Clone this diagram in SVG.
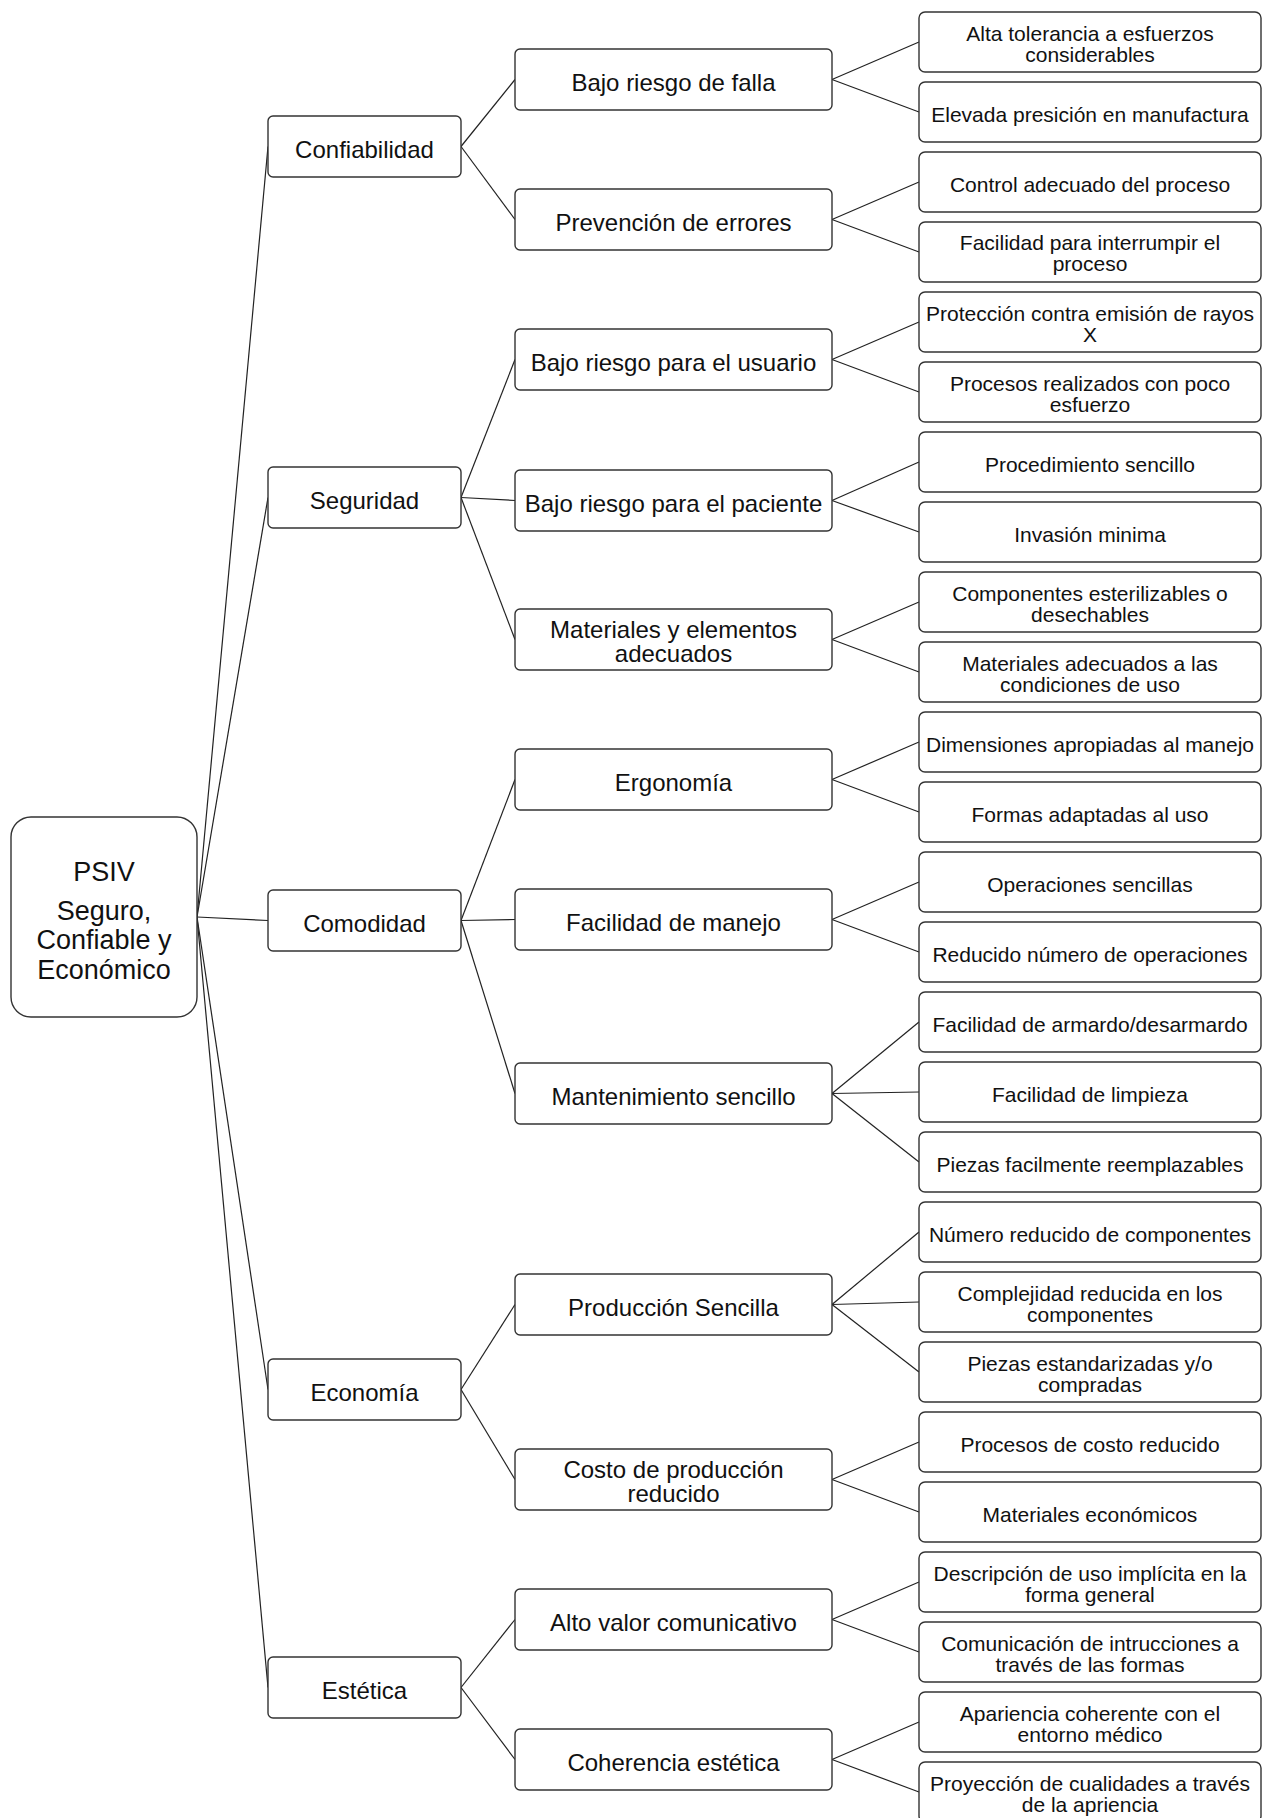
<svg xmlns="http://www.w3.org/2000/svg" width="1265" height="1818" viewBox="0 0 1265 1818">
<style>
rect{fill:#fff;stroke:#333;stroke-width:1.4}
text{font-family:"Liberation Sans",Arial,sans-serif;fill:#111;text-anchor:middle}
.r text{font-size:27px}
.l1 text,.l2 text{font-size:24px}
.l3 text{font-size:21px}
#connectors line{stroke:#222;stroke-width:1.2}
</style>
<rect x="0" y="0" width="1265" height="1818" style="fill:#fff;stroke:none"/>
<g id="connectors">
<line x1="197" y1="917" x2="268" y2="146.5"/>
<line x1="197" y1="917" x2="268" y2="497.5"/>
<line x1="197" y1="917" x2="268" y2="920.5"/>
<line x1="197" y1="917" x2="268" y2="1389.5"/>
<line x1="197" y1="917" x2="268" y2="1687.5"/>
<line x1="461" y1="146.5" x2="515" y2="79.5"/>
<line x1="461" y1="146.5" x2="515" y2="219.5"/>
<line x1="461" y1="497.5" x2="515" y2="359.5"/>
<line x1="461" y1="497.5" x2="515" y2="500.5"/>
<line x1="461" y1="497.5" x2="515" y2="639.5"/>
<line x1="461" y1="920.5" x2="515" y2="779.5"/>
<line x1="461" y1="920.5" x2="515" y2="919.5"/>
<line x1="461" y1="920.5" x2="515" y2="1093.5"/>
<line x1="461" y1="1389.5" x2="515" y2="1304.5"/>
<line x1="461" y1="1389.5" x2="515" y2="1479.5"/>
<line x1="461" y1="1687.5" x2="515" y2="1619.5"/>
<line x1="461" y1="1687.5" x2="515" y2="1759.5"/>
<line x1="832" y1="79.5" x2="919" y2="42"/>
<line x1="832" y1="79.5" x2="919" y2="112"/>
<line x1="832" y1="219.5" x2="919" y2="182"/>
<line x1="832" y1="219.5" x2="919" y2="252"/>
<line x1="832" y1="359.5" x2="919" y2="322"/>
<line x1="832" y1="359.5" x2="919" y2="392"/>
<line x1="832" y1="500.5" x2="919" y2="462"/>
<line x1="832" y1="500.5" x2="919" y2="532"/>
<line x1="832" y1="639.5" x2="919" y2="602"/>
<line x1="832" y1="639.5" x2="919" y2="672"/>
<line x1="832" y1="779.5" x2="919" y2="742"/>
<line x1="832" y1="779.5" x2="919" y2="812"/>
<line x1="832" y1="919.5" x2="919" y2="882"/>
<line x1="832" y1="919.5" x2="919" y2="952"/>
<line x1="832" y1="1093.5" x2="919" y2="1022"/>
<line x1="832" y1="1093.5" x2="919" y2="1092"/>
<line x1="832" y1="1093.5" x2="919" y2="1162"/>
<line x1="832" y1="1304.5" x2="919" y2="1232"/>
<line x1="832" y1="1304.5" x2="919" y2="1302"/>
<line x1="832" y1="1304.5" x2="919" y2="1372"/>
<line x1="832" y1="1479.5" x2="919" y2="1442"/>
<line x1="832" y1="1479.5" x2="919" y2="1512"/>
<line x1="832" y1="1619.5" x2="919" y2="1582"/>
<line x1="832" y1="1619.5" x2="919" y2="1652"/>
<line x1="832" y1="1759.5" x2="919" y2="1722"/>
<line x1="832" y1="1759.5" x2="919" y2="1792"/>
</g>
<g id="root" class="r">
<rect x="11" y="817" width="186" height="200" rx="20"/>
<text x="104" y="881">PSIV</text>
<text x="104" y="920">Seguro,</text>
<text x="104" y="949">Confiable y</text>
<text x="104" y="979">Económico</text>
</g>
<g class="l1">
<g id="confiabilidad"><rect x="268" y="116" width="193" height="61" rx="5"/><text x="364.5" y="157.5">Confiabilidad</text></g>
<g id="seguridad"><rect x="268" y="467" width="193" height="61" rx="5"/><text x="364.5" y="508.5">Seguridad</text></g>
<g id="comodidad"><rect x="268" y="890" width="193" height="61" rx="5"/><text x="364.5" y="931.5">Comodidad</text></g>
<g id="economia"><rect x="268" y="1359" width="193" height="61" rx="5"/><text x="364.5" y="1400.5">Economía</text></g>
<g id="estetica"><rect x="268" y="1657" width="193" height="61" rx="5"/><text x="364.5" y="1698.5">Estética</text></g>
</g>
<g class="l2">
<g id="bajo-riesgo-falla"><rect x="515" y="49" width="317" height="61" rx="5"/><text x="673.5" y="90.5">Bajo riesgo de falla</text></g>
<g id="prevencion"><rect x="515" y="189" width="317" height="61" rx="5"/><text x="673.5" y="230.5">Prevención de errores</text></g>
<g id="riesgo-usuario"><rect x="515" y="329" width="317" height="61" rx="5"/><text x="673.5" y="370.5">Bajo riesgo para el usuario</text></g>
<g id="riesgo-paciente"><rect x="515" y="470" width="317" height="61" rx="5"/><text x="673.5" y="511.5">Bajo riesgo para el paciente</text></g>
<g id="materiales-elementos"><rect x="515" y="609" width="317" height="61" rx="5"/><text x="673.5" y="638">Materiales y elementos</text><text x="673.5" y="662">adecuados</text></g>
<g id="ergonomia"><rect x="515" y="749" width="317" height="61" rx="5"/><text x="673.5" y="790.5">Ergonomía</text></g>
<g id="facilidad-manejo"><rect x="515" y="889" width="317" height="61" rx="5"/><text x="673.5" y="930.5">Facilidad de manejo</text></g>
<g id="mantenimiento"><rect x="515" y="1063" width="317" height="61" rx="5"/><text x="673.5" y="1104.5">Mantenimiento sencillo</text></g>
<g id="produccion"><rect x="515" y="1274" width="317" height="61" rx="5"/><text x="673.5" y="1315.5">Producción Sencilla</text></g>
<g id="costo"><rect x="515" y="1449" width="317" height="61" rx="5"/><text x="673.5" y="1478">Costo de producción</text><text x="673.5" y="1502">reducido</text></g>
<g id="alto-valor"><rect x="515" y="1589" width="317" height="61" rx="5"/><text x="673.5" y="1630.5">Alto valor comunicativo</text></g>
<g id="coherencia"><rect x="515" y="1729" width="317" height="61" rx="5"/><text x="673.5" y="1770.5">Coherencia estética</text></g>
</g>
<g class="l3">
<g id="h1"><rect x="919" y="12" width="342" height="60" rx="6"/><text x="1090" y="41">Alta tolerancia a esfuerzos</text><text x="1090" y="62">considerables</text></g>
<g id="h2"><rect x="919" y="82" width="342" height="60" rx="6"/><text x="1090" y="121.5">Elevada presición en manufactura</text></g>
<g id="h3"><rect x="919" y="152" width="342" height="60" rx="6"/><text x="1090" y="191.5">Control adecuado del proceso</text></g>
<g id="h4"><rect x="919" y="222" width="342" height="60" rx="6"/><text x="1090" y="250">Facilidad para interrumpir el</text><text x="1090" y="271">proceso</text></g>
<g id="h5"><rect x="919" y="292" width="342" height="60" rx="6"/><text x="1090" y="321">Protección contra emisión de rayos</text><text x="1090" y="342">X</text></g>
<g id="h6"><rect x="919" y="362" width="342" height="60" rx="6"/><text x="1090" y="391">Procesos realizados con poco</text><text x="1090" y="412">esfuerzo</text></g>
<g id="h7"><rect x="919" y="432" width="342" height="60" rx="6"/><text x="1090" y="471.5">Procedimiento sencillo</text></g>
<g id="h8"><rect x="919" y="502" width="342" height="60" rx="6"/><text x="1090" y="541.5">Invasión minima</text></g>
<g id="h9"><rect x="919" y="572" width="342" height="60" rx="6"/><text x="1090" y="601">Componentes esterilizables o</text><text x="1090" y="622">desechables</text></g>
<g id="h10"><rect x="919" y="642" width="342" height="60" rx="6"/><text x="1090" y="671">Materiales adecuados a las</text><text x="1090" y="692">condiciones de uso</text></g>
<g id="h11"><rect x="919" y="712" width="342" height="60" rx="6"/><text x="1090" y="751.5">Dimensiones apropiadas al manejo</text></g>
<g id="h12"><rect x="919" y="782" width="342" height="60" rx="6"/><text x="1090" y="821.5">Formas adaptadas al uso</text></g>
<g id="h13"><rect x="919" y="852" width="342" height="60" rx="6"/><text x="1090" y="891.5">Operaciones sencillas</text></g>
<g id="h14"><rect x="919" y="922" width="342" height="60" rx="6"/><text x="1090" y="961.5">Reducido número de operaciones</text></g>
<g id="h15"><rect x="919" y="992" width="342" height="60" rx="6"/><text x="1090" y="1031.5">Facilidad de armardo/desarmardo</text></g>
<g id="h16"><rect x="919" y="1062" width="342" height="60" rx="6"/><text x="1090" y="1101.5">Facilidad de limpieza</text></g>
<g id="h17"><rect x="919" y="1132" width="342" height="60" rx="6"/><text x="1090" y="1171.5">Piezas facilmente reemplazables</text></g>
<g id="h18"><rect x="919" y="1202" width="342" height="60" rx="6"/><text x="1090" y="1241.5">Número reducido de componentes</text></g>
<g id="h19"><rect x="919" y="1272" width="342" height="60" rx="6"/><text x="1090" y="1301">Complejidad reducida en los</text><text x="1090" y="1322">componentes</text></g>
<g id="h20"><rect x="919" y="1342" width="342" height="60" rx="6"/><text x="1090" y="1371">Piezas estandarizadas y/o</text><text x="1090" y="1392">compradas</text></g>
<g id="h21"><rect x="919" y="1412" width="342" height="60" rx="6"/><text x="1090" y="1451.5">Procesos de costo reducido</text></g>
<g id="h22"><rect x="919" y="1482" width="342" height="60" rx="6"/><text x="1090" y="1521.5">Materiales económicos</text></g>
<g id="h23"><rect x="919" y="1552" width="342" height="60" rx="6"/><text x="1090" y="1581">Descripción de uso implícita en la</text><text x="1090" y="1602">forma general</text></g>
<g id="h24"><rect x="919" y="1622" width="342" height="60" rx="6"/><text x="1090" y="1651">Comunicación de intrucciones a</text><text x="1090" y="1672">través de las formas</text></g>
<g id="h25"><rect x="919" y="1692" width="342" height="60" rx="6"/><text x="1090" y="1721">Apariencia coherente con el</text><text x="1090" y="1742">entorno médico</text></g>
<g id="h26"><rect x="919" y="1762" width="342" height="60" rx="6"/><text x="1090" y="1791">Proyección de cualidades a través</text><text x="1090" y="1812">de la apriencia</text></g>
</g>
</svg>
